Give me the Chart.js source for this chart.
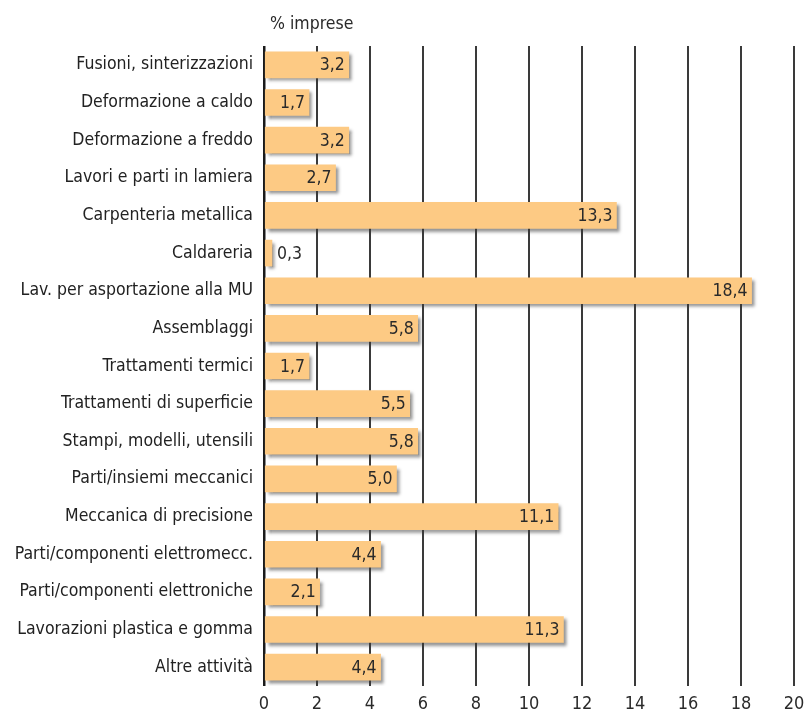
<!DOCTYPE html>
<html>
<head>
<meta charset="utf-8">
<script src="https://cdn.jsdelivr.net/npm/chart.js@4/dist/chart.umd.min.js"></script>
<style>
  html, body { margin: 0; padding: 0; background: #fff; }
  #wrap { width: 808px; height: 711px; }
</style>
</head>
<body>
<div id="wrap"><canvas id="c" width="808" height="711"></canvas></div>
<script>
// Quota di imprese per tipo di attività (%)
const categories = [
  'Fusioni, sinterizzazioni',
  'Deformazione a caldo',
  'Deformazione a freddo',
  'Lavori e parti in lamiera',
  'Carpenteria metallica',
  'Caldareria',
  'Lav. per asportazione alla MU',
  'Assemblaggi',
  'Trattamenti termici',
  'Trattamenti di superficie',
  'Stampi, modelli, utensili',
  'Parti/insiemi meccanici',
  'Meccanica di precisione',
  'Parti/componenti elettromecc.',
  'Parti/componenti elettroniche',
  'Lavorazioni plastica e gomma',
  'Altre attività'
];
const shares = [3.2, 1.7, 3.2, 2.7, 13.3, 0.3, 18.4, 5.8, 1.7, 5.5, 5.8, 5.0, 11.1, 4.4, 2.1, 11.3, 4.4];
const xTicks = [0, 2, 4, 6, 8, 10, 12, 14, 16, 18, 20];
const axisTitle = '% imprese';

const FONT = '"Liberation Sans Narrow", "DejaVu Sans Condensed", "Arial Narrow", sans-serif';
const fmt = v => v.toFixed(1).replace('.', ',');

// drop shadow under the bars
const barShadow = {
  id: 'barShadow',
  beforeDatasetDraw(chart) {
    const ctx = chart.ctx;
    ctx.save();
    ctx.shadowColor = 'rgba(60,60,60,0.55)';
    ctx.shadowOffsetX = 3;
    ctx.shadowOffsetY = 3;
    ctx.shadowBlur = 3;
  },
  afterDatasetDraw(chart) {
    chart.ctx.restore();
  }
};

// value labels at the end of each bar, plus the axis caption on top
const valueLabels = {
  id: 'valueLabels',
  afterDatasetsDraw(chart) {
    const ctx = chart.ctx;
    const meta = chart.getDatasetMeta(0);
    ctx.save();
    ctx.font = '17.5px ' + FONT;
    ctx.fillStyle = '#2a2a2a';
    ctx.textBaseline = 'middle';
    meta.data.forEach((bar, i) => {
      const v = shares[i];
      const text = fmt(v);
      const w = ctx.measureText(text).width;
      if (bar.x - bar.base > w + 8) {
        ctx.textAlign = 'right';
        ctx.fillText(text, bar.x - 4, bar.y + 1);
      } else {
        ctx.textAlign = 'left';
        ctx.fillText(text, bar.x + 5, bar.y + 1);
      }
    });
    const xs = chart.scales.x;
    ctx.textAlign = 'left';
    ctx.textBaseline = 'alphabetic';
    ctx.font = '17.5px ' + FONT;
    ctx.fillStyle = '#2a2a2a';
    ctx.fillText(axisTitle, xs.getPixelForValue(0) + 6, 29);
    ctx.restore();
  }
};

new Chart(document.getElementById('c'), {
  type: 'bar',
  data: {
    labels: categories,
    datasets: [{
      data: shares,
      backgroundColor: '#FDCA84',
      borderWidth: 0,
      barThickness: 26
    }]
  },
  options: {
    indexAxis: 'y',
    responsive: false,
    animation: false,
    layout: { padding: { top: 46, right: 14, left: 0, bottom: 0 } },
    plugins: { legend: { display: false }, tooltip: { enabled: false }, title: { display: false } },
    scales: {
      x: {
        min: 0, max: 20,
        afterBuildTicks(scale) { scale.ticks = xTicks.map(v => ({ value: v })); },
        grid: {
          color: ctx => ctx.tick && ctx.tick.value === 0 ? '#1a1a1a' : '#3a3a3a',
          lineWidth: ctx => ctx.tick && ctx.tick.value === 0 ? 2.5 : 2,
          drawTicks: false
        },
        border: { display: false },
        ticks: {
          padding: 8,
          color: '#2a2a2a',
          font: { family: FONT, size: 18 },
          callback: v => String(v)
        },
        afterFit(scale) {
          scale.height = 25;
          scale.paddingLeft = 0;
          scale.paddingRight = 0;
        }
      },
      y: {
        grid: { display: false, drawTicks: false },
        border: { display: false },
        ticks: {
          padding: 11,
          color: '#222',
          font: { family: FONT, size: 17.5 }
        },
        afterFit(scale) { scale.width = 264; }
      }
    }
  },
  plugins: [barShadow, valueLabels]
});
</script>
</body>
</html>
